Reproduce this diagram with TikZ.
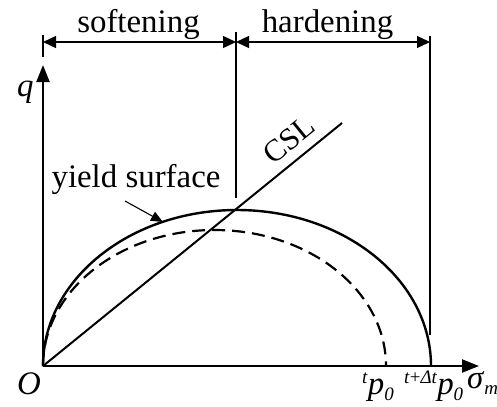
\documentclass[tikz,border=0pt]{standalone}
\usepackage{fontspec}
\setmainfont{Liberation Serif}
\usetikzlibrary{arrows.meta}
\newcommand\subsz{\fontsize{19}{21}\selectfont}
\tikzset{
  lab/.style={inner sep=0pt, font=\fontsize{33}{38}\selectfont},
  axis/.style={line width=2.2bp, -{Triangle[length=17bp,width=13bp]}},
  dimline/.style={line width=1.3bp, {Triangle[length=13bp,width=12bp]}-{Triangle[length=13bp,width=12bp]}},
  guide/.style={line width=1.1bp},
  curve/.style={line width=2.4bp},
  dashcurve/.style={line width=2.2bp, dash pattern=on 13bp off 7bp}
}
\begin{document}
\begin{tikzpicture}[x=1bp,y=-1bp]
\useasboundingbox (0,0) rectangle (497,406);
% key points
\coordinate (O) at (43,366);
\coordinate (xend) at (479,366);
\coordinate (yend) at (43,65);
\coordinate (lt) at (43,35);
\coordinate (lb) at (43,57);
\coordinate (mt) at (236,32);
\coordinate (mb) at (236,198);
\coordinate (rt) at (430,36);
\coordinate (rb) at (430,335);
\coordinate (dl) at (43,42);
\coordinate (dm) at (236,42);
\coordinate (dr) at (430,42);
\coordinate (cslend) at (342,123);
\coordinate (ystail) at (125,201);
\coordinate (ystip) at (163,222);
% axes
\draw[axis] (O) -- (xend);
\draw[axis] (O) -- (yend);
% guides
\draw[guide] (lt) -- (lb);
\draw[guide] (mt) -- (mb);
\draw[guide] (rt) -- (rb);
% dimension lines
\draw[dimline] (dl) -- (dm);
\draw[dimline] (dm) -- (dr);
\node[lab, anchor=base] (soft) at (138.5,32) {softening};
\node[lab, anchor=base] (hard) at (327.5,32) {hardening};
% yield surfaces
\draw[curve] (O) arc[start angle=180, end angle=360, x radius=194, y radius=156];
\draw[dashcurve] (O) arc[start angle=180, end angle=360, x radius=171.5, y radius=136];
% CSL
\draw[line width=2bp] (O) -- (cslend);
\node[inner sep=0pt, font=\fontsize{31}{34}\selectfont, rotate=39.1] (csl) at (289,139.5) {CSL};
% yield surface label
\node[lab, anchor=base] (ys) at (136,187) {yield surface};
\draw[line width=1.1bp, -{Triangle[length=12bp,width=10bp]}] (ystail) -- (ystip);
% axis labels
\node[lab, anchor=base west] (q) at (17,96) {\textit{q}};
\node[lab, anchor=base west] (o) at (17,394) {\textit{O}};
\node[lab, anchor=base west] (sig) at (467,388) {\textit{σ}\raisebox{-6bp}{\subsz\textit{m}}};
\node[lab, anchor=base west] (p0) at (362,394) {\raisebox{11bp}{\subsz\textit{t}}\textit{p}\raisebox{-6bp}{\subsz\textit{0}}};
\node[lab, anchor=base west] (p1) at (404,394) {\raisebox{11bp}{\subsz\textit{t}+\textit{Δt}}\textit{p}\raisebox{-6bp}{\subsz\textit{0}}};
\end{tikzpicture}
\end{document}
